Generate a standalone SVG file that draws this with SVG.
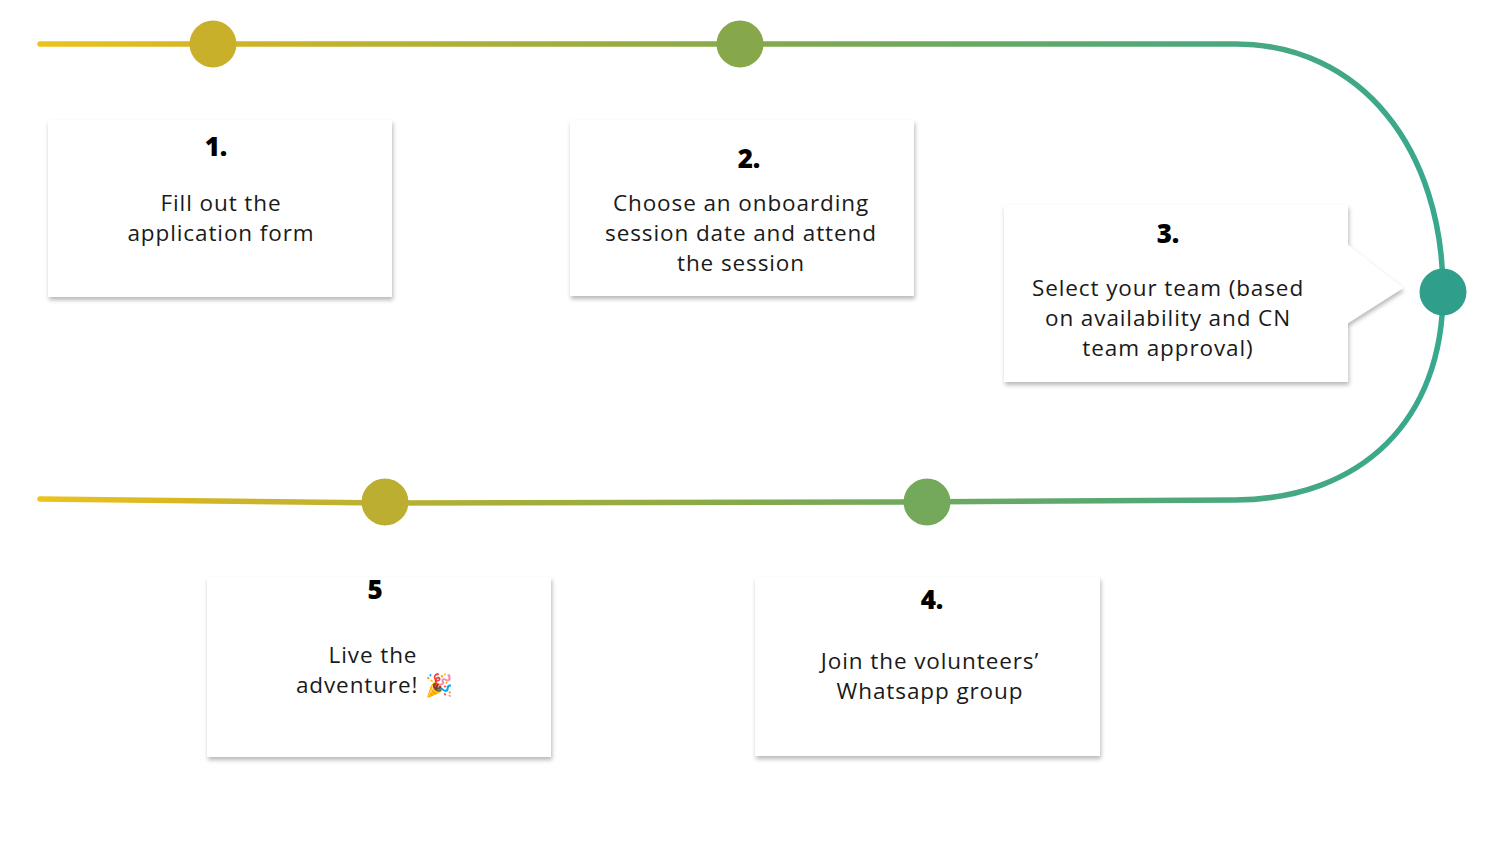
<svg xmlns="http://www.w3.org/2000/svg" width="1503" height="846" viewBox="0 0 1503 846">
  <defs>
    <linearGradient id="track" gradientUnits="userSpaceOnUse" x1="40" y1="0" x2="1443" y2="0">
      <stop offset="0" stop-color="#ecc31c"/>
      <stop offset="0.12" stop-color="#d2b526"/>
      <stop offset="0.5" stop-color="#86a94a"/>
      <stop offset="0.85" stop-color="#49a87f"/>
      <stop offset="1" stop-color="#38a88e"/>
    </linearGradient>
    <filter id="shadow" x="-10%" y="-10%" width="120%" height="125%">
      <feDropShadow dx="1" dy="3" stdDeviation="2" flood-color="#000" flood-opacity="0.28"/>
    </filter>
    <style>
      .card { fill: #ffffff; filter: url(#shadow); }
      .num { font-family: "Open Sans", "Liberation Sans", sans-serif; font-weight: 800; font-size: 26px; fill: #000; text-anchor: middle; }
      .body { font-family: "Open Sans", "Liberation Sans", sans-serif; font-size: 22.5px; letter-spacing: 0.9px; fill: #1a1a1a; text-anchor: middle; }
      .dot { stroke: none; }
    </style>
  </defs>

  <rect x="0" y="0" width="1503" height="846" fill="#ffffff"/>

  <g id="connectors">
    <path d="M40,44 L1235,44 C1362,44 1443,150 1443,292 C1443,420 1362,499 1235,500 L900,502 L385,503 L40,499" fill="none" stroke="url(#track)" stroke-width="5.5" stroke-linecap="round" stroke-linejoin="round"/>
  </g>

  <g id="dot1"><circle class="dot" cx="213" cy="44" r="23.5" fill="#c8b02a"/></g>
  <g id="dot2"><circle class="dot" cx="740" cy="44" r="23.5" fill="#86a84b"/></g>
  <g id="dot3"><circle class="dot" cx="1443" cy="292" r="23.5" fill="#2f9f8b"/></g>
  <g id="dot4"><circle class="dot" cx="927" cy="502" r="23.5" fill="#74a85a"/></g>
  <g id="dot5"><circle class="dot" cx="385" cy="502" r="23.5" fill="#bcae30"/></g>

  <g id="card1">
    <rect class="card" x="48" y="120" width="344" height="177"/>
    <text class="num" x="216" y="156">1.</text>
    <text class="body" x="221" y="211">Fill out the</text>
    <text class="body" x="221" y="241">application form</text>
  </g>

  <g id="card2">
    <rect class="card" x="570" y="120" width="344" height="176"/>
    <text class="num" x="749" y="168">2.</text>
    <text class="body" x="741" y="211">Choose an onboarding</text>
    <text class="body" x="741" y="241">session date and attend</text>
    <text class="body" x="741" y="271">the session</text>
  </g>

  <g id="card3">
    <path class="card" d="M1004,205 L1348,205 L1348,245 L1403,288 L1348,323 L1348,382 L1004,382 Z"/>
    <text class="num" x="1168" y="243">3.</text>
    <text class="body" x="1168" y="296">Select your team (based</text>
    <text class="body" x="1168" y="326">on availability and CN</text>
    <text class="body" x="1168" y="356">team approval)</text>
  </g>

  <g id="card4">
    <rect class="card" x="755" y="577" width="345" height="179"/>
    <text class="num" x="932" y="609">4.</text>
    <text class="body" x="930" y="669">Join the volunteers’</text>
    <text class="body" x="930" y="699">Whatsapp group</text>
  </g>

  <g id="card5">
    <rect class="card" x="207" y="577" width="344" height="180"/>
    <text class="num" x="375" y="599">5</text>
    <text class="body" x="373" y="663">Live the</text>
    <text class="body" x="375" y="693">adventure! 🎉</text>
  </g>
</svg>
